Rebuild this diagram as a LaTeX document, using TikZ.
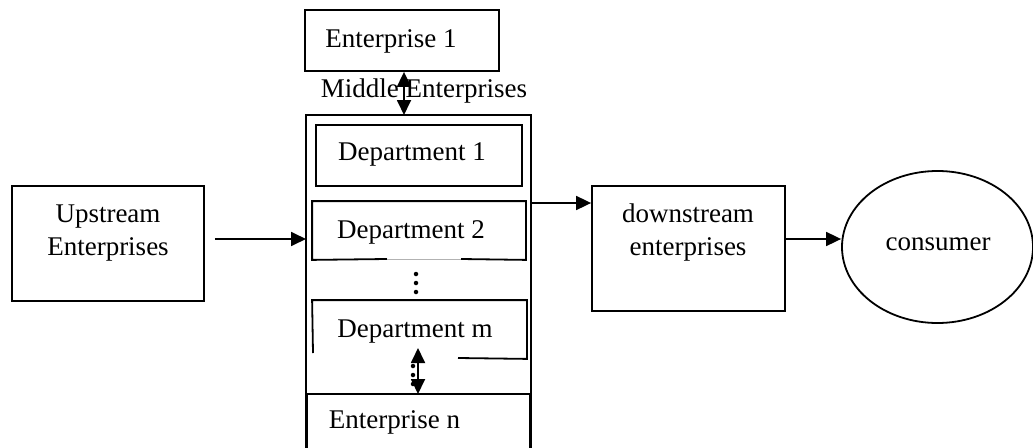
\documentclass[tikz,border=0pt]{standalone}
\usepackage{fontspec}
\setmainfont{Liberation Serif}
\usetikzlibrary{arrows.meta,shapes.geometric}
\begin{document}
\begin{tikzpicture}[x=1pt,y=-1pt,line width=1.8pt,
  box/.style={draw,rectangle,inner sep=0pt},
  frame/.style={rectangle,inner sep=0pt},
  lbl/.style={font=\fontsize{27}{33}\selectfont,anchor=base,inner sep=0pt},
  arr/.style={-{Triangle[length=15pt,width=14pt]}},
  dbl/.style={{Triangle[length=15pt,width=14pt]}-{Triangle[length=15pt,width=14pt]}},
  dot/.style={fill,circle,inner sep=0pt,minimum size=4.5pt}]

\useasboundingbox (0,0) rectangle (1033,447);
\clip (0,0) rectangle (1033,447);

% outer boxes
\node[box,minimum width=192pt,minimum height=115pt] (up) at (108,243.5) {};
\node[box,minimum width=194pt,minimum height=61pt] (ent1) at (402,40.5) {};
\node[box,minimum width=193pt,minimum height=125pt] (down) at (688.5,248.5) {};
\node[draw,ellipse,inner sep=0pt,minimum width=191pt,minimum height=152pt] (cons) at (937.5,247) {};

% middle enterprises frame (open at the bottom)
\coordinate (midNW) at (306,115);
\coordinate (midNE) at (531,115);
\draw (306,455) -- (midNW) -- (midNE) -- (531,455);

% departments
\node[box,minimum width=206pt,minimum height=61pt] (dep1) at (419,155.5) {};
\node[frame,minimum width=212pt,minimum height=57pt] (dep2) at (419,230.5) {};
\draw (387,259) -- (dep2.south west) -- (dep2.north west) -- (dep2.north east) -- (dep2.south east) -- (461,259);
\draw[line width=0.6pt,black!30] (387,259) -- (461,259);
\node[frame,minimum width=213pt,minimum height=57pt] (depm) at (419.5,329.5) {};
\draw (313,353) -- (depm.north west) -- (depm.north east) -- (depm.south east) -- (458,358);

% enterprise n (open at the bottom)
\coordinate (entnN) at (418,394);
\draw (307,455) -- (307,394) -- (530,394) -- (530,455);

% labels
\node[lbl] (tUp1) at (108,222) {Upstream};
\node[lbl] (tUp2) at (108,255) {Enterprises};
\node[lbl] (tEnt1) at (391,47) {Enterprise 1};
\node[lbl] (tMid) at (424,97) {Middle Enterprises};
\node[lbl] (tDep1) at (412,160) {Department 1};
\node[lbl] (tDep2) at (411,238) {Department 2};
\node[lbl] (tDepm) at (415,337) {Department m};
\node[lbl,anchor=base west] (tEntn) at (328,428) {Enterprise n};
\node[lbl] (tDown1) at (688,222) {downstream};
\node[lbl] (tDown2) at (688,255) {enterprises};
\node[lbl] (tCons) at (938,250) {consumer};

% vertical ellipses
\node[dot] (d1) at (416,274) {};
\node[dot] (d2) at (416,283) {};
\node[dot] (d3) at (416,292) {};
\node[dot] (e1) at (413,366) {};
\node[dot] (e2) at (413,375) {};
\node[dot] (e3) at (413,384) {};

% connectors
\coordinate (midW) at (306,239);
\draw[arr] ([xshift=10pt,yshift=4.5pt]up.east) -- (midW);
\coordinate (midE) at (531,203);
\draw[arr] (midE) -- (midE -| down.west);
\coordinate (downE) at (785,239);
\draw[arr] (downE) -- (downE -| cons.west);
\coordinate (midN) at (404,115);
\draw[dbl] ([xshift=2pt]ent1.south) -- (midN);
\coordinate (depmS) at (418,348);
\draw[dbl] (depmS) -- (entnN);
\end{tikzpicture}
\end{document}
